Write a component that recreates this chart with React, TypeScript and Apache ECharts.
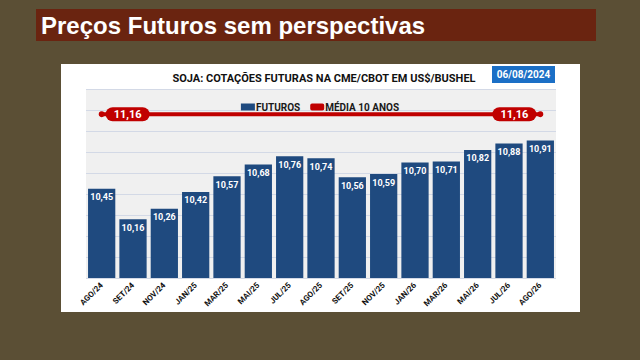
import React, { useEffect, useRef } from "react";
import * as echarts from "echarts";

const categories = ["AGO/24", "SET/24", "NOV/24", "JAN/25", "MAR/25", "MAI/25", "JUL/25", "AGO/25", "SET/25", "NOV/25", "JAN/26", "MAR/26", "MAI/26", "JUL/26", "AGO/26"];
const futuros = [10.45, 10.16, 10.26, 10.42, 10.57, 10.68, 10.76, 10.74, 10.56, 10.59, 10.70, 10.71, 10.82, 10.88, 10.91];
const media10 = [11.16, 11.16, 11.16, 11.16, 11.16, 11.16, 11.16, 11.16, 11.16, 11.16, 11.16, 11.16, 11.16, 11.16, 11.16];
const pageTitle = "Preços Futuros sem perspectivas";
const chartTitle = "SOJA: COTAÇÕES FUTURAS NA CME/CBOT EM US$/BUSHEL";
const dateLabel = "06/08/2024";

const fmt = (v: number) => v.toFixed(2).replace(".", ",");

export default function App() {
  const ref = useRef<HTMLDivElement>(null);
  useEffect(() => {
    if (!ref.current) return;
    const chart = echarts.init(ref.current, null, { renderer: "svg" });
    const last = media10.length - 1;
    chart.setOption({
      animation: false,
      textStyle: { fontFamily: "Roboto" },
      graphic: [
        { type: "rect", z: -10, shape: { x: 0, y: 0, width: 640, height: 360 }, style: { fill: "#5b4f35" } },
        { type: "rect", z: -9, shape: { x: 36, y: 9, width: 560, height: 32 }, style: { fill: "#6a2410" } },
        { type: "text", z: 5, x: 41, y: 25.5, style: { text: pageTitle, fill: "#ffffff", font: "bold 24px 'Liberation Sans', Arial", textVerticalAlign: "middle" } },
        { type: "rect", z: -9, shape: { x: 61, y: 64, width: 519, height: 248 }, style: { fill: "#ffffff" } },
        { type: "rect", z: 5, shape: { x: 492, y: 66, width: 63, height: 17 }, style: { fill: "#1b6fc6" } },
        { type: "text", z: 6, x: 523.5, y: 74.5, style: { text: dateLabel, fill: "#ffffff", font: "bold 10px Roboto", textAlign: "center", textVerticalAlign: "middle" } },
      ],
      title: {
        text: chartTitle,
        left: 319,
        top: 68,
        textAlign: "center",
        textStyle: { fontSize: 11, fontWeight: "bold", color: "#111111", fontFamily: "Roboto" },
      },
      legend: {
        top: 97,
        left: "center",
        itemGap: 10,
        itemWidth: 14,
        itemHeight: 7,
        textStyle: { fontSize: 10, fontWeight: "bold", color: "#1a1a1a", fontFamily: "Roboto", padding: [0, 0, 0, -4] },
        data: [
          { name: "FUTUROS", icon: "rect" },
          { name: "MÉDIA 10 ANOS", icon: "roundRect", itemStyle: { color: "#c00000" } },
        ],
      },
      grid: {
        left: 86,
        top: 89,
        width: 470,
        height: 189,
        show: true,
        backgroundColor: "#f0f0f0",
        borderWidth: 0,
      },
      xAxis: {
        type: "category",
        data: categories,
        axisLine: { show: false },
        axisTick: { show: false },
        axisLabel: { rotate: 45, fontSize: 8, fontWeight: "bold", color: "#111111", margin: 6, interval: 0 },
      },
      yAxis: {
        type: "value",
        min: 9.6,
        max: 11.4,
        interval: 0.2,
        axisLabel: { show: false },
        axisLine: { show: false },
        axisTick: { show: false },
        splitLine: { lineStyle: { color: "#d3d9e6", width: 1 } },
      },
      series: [
        {
          name: "FUTUROS",
          type: "bar",
          data: futuros,
          barCategoryGap: "13%",
          itemStyle: { color: "#1f4a7f" },
          label: {
            show: true,
            position: "insideTop",
            distance: 4,
            color: "#ffffff",
            fontSize: 9,
            fontWeight: "bold",
            formatter: (p: any) => fmt(p.value),
          },
        },
        {
          name: "MÉDIA 10 ANOS",
          type: "line",
          data: media10.map((v, i) =>
            i === 0 || i === last
              ? {
                  value: v,
                  symbol: "circle",
                  symbolSize: 6,
                  label: {
                    show: true,
                    position: i === 0 ? "right" : "left",
                    distance: 1,
                    backgroundColor: "#c00000",
                    borderRadius: 8,
                    padding: [2, 8, 1, 8],
                    color: "#ffffff",
                    fontSize: 11,
                    fontWeight: "bold",
                    formatter: (p: any) => fmt(p.value),
                  },
                }
              : { value: v, symbol: "none" }
          ),
          lineStyle: { color: "#c00000", width: 4 },
          itemStyle: { color: "#c00000" },
          z: 5,
        },
      ],
    });
    return () => chart.dispose();
  }, []);
  return <div ref={ref} style={{ position: "absolute", left: 0, top: 0, width: 640, height: 360 }} />;
}
